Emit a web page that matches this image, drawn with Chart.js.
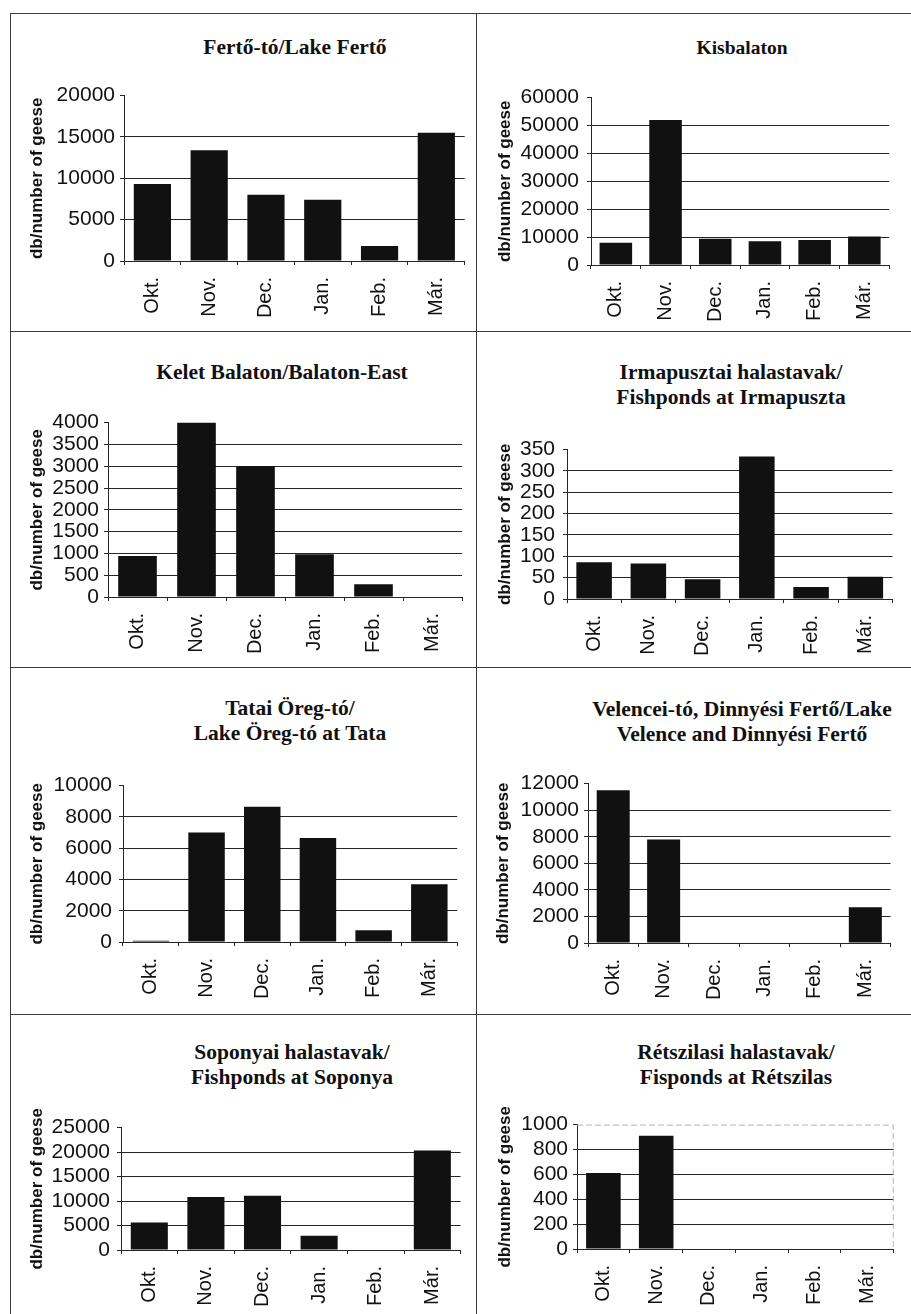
<!DOCTYPE html>
<html>
<head>
<meta charset="utf-8">
<script src="https://cdn.jsdelivr.net/npm/chart.js@4.4.1/dist/chart.umd.min.js"></script>
<style>
  html, body { margin: 0; padding: 0; background: #fff; }
  #page { position: relative; width: 911px; height: 1314px; overflow: hidden; background: #fff; }
  .rule { position: absolute; background: #3c3c3c; }
  .ttl { position: absolute; width: 440px; text-align: center; color: #111;
         font: bold 21.5px "Liberation Serif", "Times New Roman", serif; line-height: 25px; white-space: nowrap; }
  canvas { position: absolute; }
</style>
</head>
<body>
<div id="page"></div>
<script>
// Monthly goose counts, October to March
const months = ['Okt.', 'Nov.', 'Dec.', 'Jan.', 'Feb.', 'Már.'];

const ferto        = [9300, 13400, 8000, 7400, 1800, 15500];
const kisbalaton   = [8000, 52000, 9400, 8500, 9000, 10200];
const keletBalaton = [940, 4000, 3000, 980, 290, 0];
const irmapuszta   = [86, 83, 46, 334, 28, 52];
const tata         = [80, 7000, 8650, 6650, 750, 3700];
const velence      = [11500, 7800, 0, 0, 0, 2700];
const soponya      = [5600, 10800, 11100, 2900, 0, 20300];
const retszilas    = [610, 910, 0, 0, 0, 0];

// Value-axis ranges (max, step) per site
const yMax  = [20000, 60000, 4000, 350, 10000, 12000, 25000, 1000];
const yStep = [5000, 10000, 500, 50, 2000, 2000, 5000, 200];

const siteTitles = [
  ['Fertő-tó/Lake Fertő'],
  ['Kisbalaton'],
  ['Kelet Balaton/Balaton-East'],
  ['Irmapusztai halastavak/', 'Fishponds at Irmapuszta'],
  ['Tatai Öreg-tó/', 'Lake Öreg-tó at Tata'],
  ['Velencei-tó, Dinnyési Fertő/Lake', 'Velence and Dinnyési Fertő'],
  ['Soponyai halastavak/', 'Fishponds at Soponya'],
  ['Rétszilasi halastavak/', 'Fisponds at Rétszilas']
];
const siteValues = [ferto, kisbalaton, keletBalaton, irmapuszta, tata, velence, soponya, retszilas];
const axisTitle = 'db/number of geese';

// Page layout: plot rectangle [x0, y0, x1, y1], tick label right edge,
// axis title centre x, chart title centre (x, y of first line)
const layout = [
  { plot: [124,   94, 465,  261], tickEnd: 115, axisX: 37,  tx: 295, ty: 48 },
  { plot: [591,   93, 893,  265], tickEnd: 579, axisX: 505, tx: 742, ty: 48, tsize: 19.5 },
  { plot: [108,  421, 462,  597], tickEnd: 99,  axisX: 37,  tx: 282, ty: 373 },
  { plot: [567,  445, 894,  599], tickEnd: 555, axisX: 505, tx: 731, ty: 373 },
  { plot: [123,  782, 458,  942], tickEnd: 112, axisX: 37,  tx: 290, ty: 709 },
  { plot: [588,  782, 894,  943], tickEnd: 579, axisX: 503, tx: 742, ty: 710 },
  { plot: [121, 1124, 461, 1250], tickEnd: 110, axisX: 37,  tx: 292, ty: 1053 },
  { plot: [577, 1123, 896, 1249], tickEnd: 568, axisX: 505, tx: 736, ty: 1053, lightFrame: true }
];

const page = document.getElementById('page');

// Panel frame
function rule(x, y, w, h) {
  const d = document.createElement('div');
  d.className = 'rule';
  d.style.left = x + 'px'; d.style.top = y + 'px';
  d.style.width = w + 'px'; d.style.height = h + 'px';
  page.appendChild(d);
}
rule(10, 13, 1, 1301);
rule(476, 13, 1, 1301);
[13, 331, 667, 1014].forEach(y => rule(10, y, 901, 1));

const sans = "'Liberation Sans', Arial, sans-serif";
const ink = '#111';
const lineCol = '#262626';

Chart.defaults.font.family = sans;
Chart.defaults.font.size = 21;
Chart.defaults.color = ink;

// Faint plot-area outline used on one panel
const plotFrame = {
  id: 'plotFrame',
  afterDraw(chart, args, opts) {
    if (!opts.show) return;
    const { ctx, chartArea: a } = chart;
    ctx.save();
    ctx.strokeStyle = '#b5b5b5';
    ctx.lineWidth = 1;
    ctx.setLineDash([6, 3]);
    ctx.beginPath();
    ctx.moveTo(a.left, a.top + 0.5);
    ctx.lineTo(a.right - 0.5, a.top + 0.5);
    ctx.lineTo(a.right - 0.5, a.bottom);
    ctx.stroke();
    ctx.restore();
  }
};

layout.forEach((L, i) => {
  const [x0, y0, x1, y1] = L.plot;
  const PT = 16, PR = 8, XH = 74;
  const left = L.axisX < 300 ? 12 : 478;
  const YW = x0 - left;
  const W = (x1 - left) + PR;
  const H = (y1 - y0) + PT + XH;

  // chart title
  const t = document.createElement('div');
  t.className = 'ttl';
  t.style.left = (L.tx - 220) + 'px';
  t.style.top = (L.ty - 13) + 'px';
  if (L.tsize) t.style.fontSize = L.tsize + 'px';
  t.innerHTML = siteTitles[i].join('<br>');
  page.appendChild(t);

  const cv = document.createElement('canvas');
  cv.width = W; cv.height = H;
  cv.style.left = left + 'px';
  cv.style.top = (y0 - PT) + 'px';
  cv.style.width = W + 'px';
  cv.style.height = H + 'px';
  page.appendChild(cv);

  const titleSize = 17;
  const lh = titleSize * 1.2;
  const max = yMax[i];

  new Chart(cv, {
    type: 'bar',
    data: {
      labels: months,
      datasets: [{
        data: siteValues[i],
        backgroundColor: ink,
        borderWidth: 0,
        barPercentage: 1,
        categoryPercentage: 0.655
      }]
    },
    plugins: [plotFrame],
    options: {
      responsive: false,
      animation: false,
      devicePixelRatio: 1,
      layout: { padding: { left: 0, top: PT, right: PR, bottom: 0 } },
      plugins: {
        legend: { display: false },
        tooltip: { enabled: false },
        title: { display: false },
        plotFrame: { show: !!L.lightFrame }
      },
      scales: {
        x: {
          afterFit(s) { s.height = XH; },
          grid: { display: true, drawOnChartArea: false, drawTicks: true, tickLength: 4,
                  color: lineCol, offset: true },
          border: { display: true, color: lineCol, width: 1 },
          ticks: { minRotation: 90, maxRotation: 90, autoSkip: false, padding: 12,
                   color: ink, font: { family: sans, size: 20 } }
        },
        y: {
          min: 0, max: max,
          afterFit(s) { s.width = YW; },
          ticks: { stepSize: yStep[i], autoSkip: false, padding: (x0 - L.tickEnd) - 4, color: ink,
                   font: { family: sans, size: 21 },
                   callback: v => String(v) },
          grid: {
            drawTicks: true, tickLength: 4, lineWidth: 1,
            color: c => (c.tick && c.tick.value === max) ? 'rgba(0,0,0,0)' : lineCol,
            tickColor: lineCol
          },
          border: { display: true, color: lineCol, width: 1 },
          title: {
            display: true, text: axisTitle, color: ink,
            font: { family: sans, size: titleSize, weight: 'bold' },
            padding: { top: L.axisX - left - lh / 2, bottom: 0 }
          }
        }
      }
    }
  });
});
</script>
</body>
</html>
